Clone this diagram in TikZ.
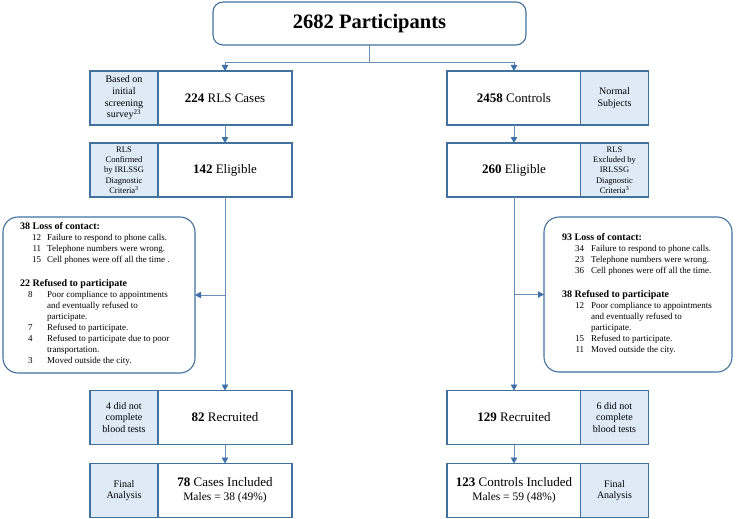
\documentclass[tikz,border=0pt]{standalone}
\usepackage{fontspec}
\setmainfont{Liberation Serif}
\usetikzlibrary{arrows.meta,positioning,calc}
\definecolor{bordc}{HTML}{41719C}
\definecolor{sidec}{HTML}{DEEBF7}
\definecolor{linec}{HTML}{6A8DB5}
\definecolor{arrowc}{HTML}{3F70A8}
\tikzset{
  box/.style={draw=bordc, line width=1.1pt, minimum height=54pt, inner sep=1pt, align=center, outer sep=0pt},
  mainbox/.style={box, fill=white, minimum width=134pt, font=\fontsize{13}{14}\selectfont},
  sidebox/.style={box, fill=sidec, minimum width=68pt, font=\fontsize{10}{11.7}\selectfont},
  smallside/.style={sidebox, font=\fontsize{8.5}{10.3}\selectfont},
  roundbox/.style={draw=bordc, line width=1.1pt, rounded corners=15pt, fill=white, outer sep=0pt, inner sep=0pt},
  listtext/.style={anchor=base west, inner sep=0pt, font=\fontsize{9}{11}\selectfont},
  conn/.style={draw=linec, line width=0.9pt},
  arr/.style={conn, -{Triangle[length=6pt,width=6.5pt,color=arrowc]}}
}
\newcommand{\hd}[1]{{\fontsize{10}{12}\selectfont\bfseries #1}}
\newcommand{\lnum}[1]{\makebox[9pt][l]{\hspace{-4pt}#1}}
\begin{document}
\begin{tikzpicture}[x=1pt,y=-1pt]
\useasboundingbox (0,0) rectangle (736,519);
% top
\node[draw=bordc, line width=1.1pt, rounded corners=10pt, minimum width=313pt, minimum height=43pt, outer sep=0pt, font=\fontsize{20.5}{22}\selectfont\bfseries] (top) at (369.5,23.5) {2682 Participants};
\coordinate (split) at (369.5,62);
% left column
\node[sidebox] (casesS) at (124,98) {Based on\\initial\\screening\\survey\textsuperscript{23}};
\node[mainbox] (cases) at (225,98) {\textbf{224} RLS Cases};
\node[smallside] (eligLS) at (124,170) {RLS\\Confirmed\\by IRLSSG\\Diagnostic\\Criteria\textsuperscript{3}};
\node[mainbox] (eligL) at (225,170) {\textbf{142} Eligible};
\node[sidebox] (recrLS) at (124,417.5) {4 did not\\complete\\blood tests};
\node[mainbox] (recrL) at (225,417.5) {\textbf{82} Recruited};
\node[sidebox] (finLS) at (124,490.5) {Final\\Analysis};
\node[mainbox] (finL) at (225,490.5) {\textbf{78} Cases Included\\{\fontsize{11.5}{14}\selectfont Males = 38 (49\%)}};
% right column
\node[mainbox] (ctrl) at (514,98) {\textbf{2458} Controls};
\node[sidebox] (ctrlS) at (614.5,98) {Normal\\Subjects};
\node[mainbox] (eligR) at (514,170) {\textbf{260} Eligible};
\node[smallside] (eligRS) at (614.5,170) {RLS\\Excluded by\\IRLSSG\\Diagnostic\\Criteria\textsuperscript{3}};
\node[mainbox] (recrR) at (514,417.5) {\textbf{129} Recruited};
\node[sidebox] (recrRS) at (614.5,417.5) {6 did not\\complete\\blood tests};
\node[mainbox] (finR) at (514,490.5) {\textbf{123} Controls Included\\{\fontsize{11.5}{14}\selectfont Males = 59 (48\%)}};
\node[sidebox] (finRS) at (614.5,490.5) {Final\\Analysis};
% rounded exclusion boxes
\node[roundbox, minimum width=192pt, minimum height=156pt] (lossL) at (99,295) {};
\node[roundbox, minimum width=188pt, minimum height=155pt] (lossR) at (638,294.5) {};
\node[listtext] (lossLt) at (20,229) {\begin{tabular}[t]{@{\hspace{12pt}}r@{\hspace{6pt}}l@{}}
\multicolumn{2}{@{}l@{}}{\hd{38 Loss of contact:}}\\
12 & Failure to respond to phone calls.\\
11 & Telephone numbers were wrong.\\
15 & Cell phones were off all the time .\\[13pt]
\multicolumn{2}{@{}l@{}}{\hd{22 Refused to participate}}\\
\lnum{8} & Poor compliance to appointments\\
 & and eventually refused to\\
 & participate.\\
\lnum{7} & Refused to participate.\\
\lnum{4} & Refused to participate due to poor\\
 & transportation.\\
\lnum{3} & Moved outside the city.
\end{tabular}};
\node[listtext] (lossRt) at (562,240) {\begin{tabular}[t]{@{\hspace{13pt}}r@{\hspace{7pt}}l@{}}
\multicolumn{2}{@{}l@{}}{\hd{93 Loss of contact:}}\\
34 & Failure to respond to phone calls.\\
23 & Telephone numbers were wrong.\\
36 & Cell phones were off all the time.\\[13pt]
\multicolumn{2}{@{}l@{}}{\hd{38 Refused to participate}}\\
12 & Poor compliance to appointments\\
 & and eventually refused to\\
 & participate.\\
15 & Refused to participate.\\
11 & Moved outside the city.
\end{tabular}};
% connectors
\draw[conn] (top.south) -- (split);
\draw[arr] (split) -| (cases.north);
\draw[arr] (split) -| (ctrl.north);
\draw[arr] (cases.south) -- (eligL.north);
\draw[arr] (ctrl.south) -- (eligR.north);
\draw[arr] (eligL.south) -- (recrL.north);
\draw[arr] (eligR.south) -- (recrR.north);
\coordinate (bL) at (eligL.south |- lossL.east);
\coordinate (bR) at (eligR.south |- lossR.west);
\draw[arr] (bL) -- (lossL.east);
\draw[arr] (bR) -- (lossR.west);
\draw[arr] (recrL.south) -- (finL.north);
\draw[arr] (recrR.south) -- (finR.north);
\end{tikzpicture}
\end{document}
